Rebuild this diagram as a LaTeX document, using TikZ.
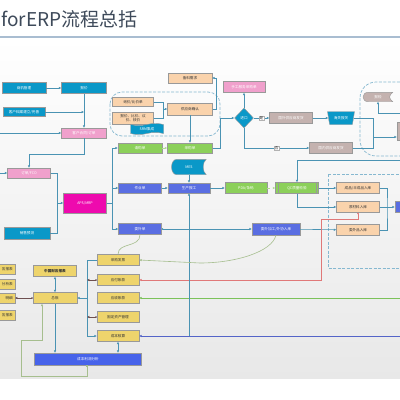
\documentclass[tikz,border=0pt]{standalone}
\usepackage{fontspec}
\setmainfont{Noto Sans CJK SC}
\usetikzlibrary{arrows.meta,positioning,calc,shapes.geometric,shapes.symbols,backgrounds}
\definecolor{cyanc}{HTML}{0A98C8}
\definecolor{pinkc}{HTML}{F0A0CC}
\definecolor{magc}{HTML}{EE0AAE}
\definecolor{greenc}{HTML}{8CD05A}
\definecolor{royc}{HTML}{5A6EE2}
\definecolor{fxc}{HTML}{4763EA}
\definecolor{orc}{HTML}{FAD3AC}
\definecolor{grayc}{HTML}{C4B2AF}
\definecolor{yelc}{HTML}{EED46C}
\definecolor{tealc}{HTML}{4A93B3}
\definecolor{redc}{HTML}{E07878}
\definecolor{greenl}{HTML}{7CC25A}
\definecolor{bluel}{HTML}{5464C8}
\definecolor{olivec}{HTML}{A6BE8E}
\definecolor{brownc}{HTML}{6E5050}
\definecolor{dashc}{HTML}{86B8D0}
\definecolor{lgreen}{HTML}{B0DE90}
\definecolor{titlec}{HTML}{3E4A5A}
\definecolor{rulec}{HTML}{A9BDD1}
\newcommand{\lblfont}{\fontsize{3.6}{4.2}\selectfont}

\begin{document}
\begin{tikzpicture}[x=1pt, y=-1pt,
    box/.style={rectangle, draw=black!40, line width=0.4pt, minimum width=43pt, minimum height=10pt, inner sep=0.5pt, font=\lblfont, align=center, text=white},
    lbox/.style={box, text=black!80},
    cutbox/.style={lbox, fill=yelc, anchor=east, minimum width=40pt, text width=36pt, align=right},
    flow/.style={draw=tealc, line width=0.6pt, -{Latex[length=2.4pt,width=2.4pt]}},
    brownflow/.style={flow, draw=brownc, {Circle[length=1.6pt]}-{Latex[length=2.4pt,width=2.4pt]}},
    region/.style={draw=dashc, dash pattern=on 3pt off 1.5pt, line width=0.7pt},
    yesno/.style={fill=white, draw=black!30, line width=0.2pt, inner sep=0.6pt, font=\lblfont, text=black!80},
]
    \useasboundingbox (0,0) rectangle (400,400);
    \node[anchor=west, inner sep=0, font=\fontsize{19}{20}\selectfont, text=titlec] (title) at (1,19) {forERP流程总括};
    \draw[rulec, line width=1.2pt] (0,37) -- (400,37);

    \draw[region, rounded corners=12pt] (110,92) rectangle (220,136);
    \draw[region, rounded corners=16pt] (360,82) rectangle (430,156);
    \draw[region] (328,174) rectangle (420,268);

    \node[box, fill=cyanc, minimum width=44pt, minimum height=11pt] (sj) at (24,88) {商机管理};
    \node[box, fill=cyanc, minimum width=45pt, minimum height=11pt] (bj) at (84,88) {报价};
    \node[box, fill=cyanc, minimum width=42pt, minimum height=9pt] (da) at (24,112) {客户档案建立/完善};
    \node[box, fill=pinkc, minimum width=45pt] (ht) at (84,133) {客户合同/订单};
    \node[box, fill=pinkc] (dd) at (29,173) {订单/FCO};
    \node[box, fill=cyanc, minimum width=46pt, minimum height=12pt] (yc) at (27,233) {销售预测};
    \node[box, fill=magc, minimum height=20pt] (aps) at (85,203) {APS/MRP};

    \node[lbox, fill=orc, minimum width=44pt] (bl) at (190,78) {备料需求};
    \node[lbox, fill=orc, minimum width=41pt, minimum height=9pt] (xj) at (133,102) {询价/比价单};
    \node[lbox, fill=orc, minimum width=41pt, minimum height=12pt] (bjd) at (133,118) {报价、比价、议\\价、核价};
    \node[lbox, fill=orc, minimum width=45pt, minimum height=12pt] (gys) at (190,109) {供应商确认};
    \node[box, tape, tape bend height=2pt, fill=cyanc, minimum width=33pt, minimum height=11pt] (srm) at (147,129) {SRM集成};

    \node[box, fill=greenc, minimum width=44pt] (qg) at (140,148) {请购单};
    \node[box, fill=greenc, minimum width=45pt] (cg) at (190,148) {采购单};
    \node[text=white, font=\lblfont, minimum width=34pt, minimum height=15pt, inner sep=0] (mes) at (189,167) {MES};
    \node[box, fill=royc] (zy) at (140,188) {作业单};
    \node[box, fill=royc, minimum width=42pt] (bg) at (189,188) {生产报工};
    \node[box, fill=royc, minimum height=11pt] (ww) at (140,229) {委外单};

    \node[box, fill=pinkc, minimum width=42pt, minimum height=11pt] (pk) at (244,87) {手工服务采购单};
    \node[diamond, draw=black!40, line width=0.4pt, fill=cyanc, text=white, font=\lblfont, minimum width=19pt, minimum height=20pt, inner sep=0] (jk) at (244,118) {进口};
    \node[box, fill=grayc, minimum height=11pt] (gw) at (291,118) {国外供应商发货};
    \node[box, fill=grayc, minimum height=11pt] (gn) at (331,148) {国内供应商发货};
    \node[trapezium, shape border rotate=180, trapezium angle=72, trapezium stretches=true, draw=black!40, line width=0.4pt, fill=cyanc, text=white, font=\lblfont, minimum width=27pt, minimum height=13pt, inner sep=0.5pt] (hg) at (341,118) {海关报关};
    \node[text=white, font=\lblfont, minimum width=29pt, minimum height=9pt, inner sep=0] (jy) at (378,97) {报检};
    \node[box, fill=grayc, minimum width=32pt, minimum height=18pt] (dh) at (413,131) {};

    \node[box, fill=greenc, minimum width=42pt, minimum height=11pt] (pda) at (246,188) {PDA/条码};
    \node[box, fill=greenc, minimum height=11pt] (qc) at (297,188) {QC质量检验};
    \draw[black!40, line width=0.4pt] ([xshift=3pt]qc.north west) -- ([xshift=3pt]qc.south west);
    \draw[black!40, line width=0.4pt] ([xshift=-3pt]qc.north east) -- ([xshift=-3pt]qc.south east);
    \node[box, fill=royc, minimum width=48pt, minimum height=12pt] (wj) at (276,229) {委外加工/外协入库};
    \node[lbox, fill=orc, minimum height=11pt] (cp) at (358,188) {成品/半成品入库};
    \node[lbox, fill=orc, minimum height=11pt] (ycl) at (358,207) {原材料入库};
    \node[lbox, fill=orc, minimum height=11pt] (wp) at (358,230) {委外品入库};
    \node[box, fill=royc, minimum width=50pt, minimum height=11pt] (kc) at (420,207) {};

    \node[lbox, fill=yelc, minimum width=42pt, minimum height=11pt] (cf) at (118,260) {采购发票};
    \node[lbox, fill=yelc, minimum width=42pt, minimum height=11pt] (yf) at (118,280) {应付账款};
    \node[lbox, fill=yelc, minimum width=42pt, minimum height=11pt] (ys) at (118,298) {应收账款};
    \node[lbox, fill=yelc, minimum width=42pt, minimum height=11pt] (gz) at (118,317) {固定资产管理};
    \node[lbox, fill=yelc, minimum width=42pt, minimum height=11pt] (cb) at (118,336) {成本核算};
    \node[lbox, fill=yelc, minimum width=44pt, minimum height=11pt] (zz) at (55,298) {总账};
    \node[lbox, fill=yelc, minimum width=43pt, minimum height=11pt, font=\lblfont\bfseries] (bb) at (55,271) {中国财务报表};
    \node[cutbox, minimum height=10pt] (l1) at (15,269) {务报表};
    \node[cutbox, minimum height=10pt] (l2) at (15,284) {分析表};
    \node[cutbox, minimum height=10pt] (l3) at (15,298) {明细};
    \node[cutbox, minimum height=10pt] (l4) at (15,315) {务报表};
    \node[box, fill=fxc, minimum width=107pt, minimum height=12pt] (fx) at (88,359) {成本利润分析};

    \begin{scope}[on background layer]
        \fill[top color=white, bottom color=black!9] (0,38) rectangle (400,378);
        \foreach \n/\c in {mes/cyanc, jy/grayc}
            \filldraw[fill=\c, draw=black!40, line width=0.4pt] ($(\n.north west)+(5,0)$) -- (\n.north east)
                .. controls ($(\n.north east)+(-4,3)$) and ($(\n.south east)+(-4,-3)$) .. (\n.south east)
                -- ($(\n.south west)+(5,0)$)
                .. controls ($(\n.south west)+(-2,0)$) and ($(\n.north west)+(-2,0)$) .. cycle;
    \end{scope}

    \coordinate (inA) at (0,133);
    \coordinate (inB) at (0,173);
    \coordinate (inC) at (400,160);
    \coordinate (inD) at (400,113);
    \coordinate (inE) at (400,298);
    \coordinate (inF) at (400,336);
    \coordinate (jA) at (57,203);
    \coordinate (jB) at (112,203);
    \coordinate (jC) at (163,109);
    \coordinate (jD) at (387,207);
    \coordinate (jE) at (373,137);
    \coordinate (jF) at (87,298);

    \draw[flow] (sj) -- (bj);
    \draw[flow] (bj) -- (ht);
    \draw[flow] (da.east) -- (da.east -| ht.north);
    \draw[flow] (inA) -- (ht.west);
    \draw[flow] (inB) -- (dd.west);
    \draw[flow] (ht.south) -- ++(0,16) -| (dd.north);
    \draw[flow] (dd.east) -| (jA) -- (aps.west);
    \draw[flow, -] (yc.east) -| (jA);
    \draw[flow] (aps.east) -- (jB) |- (qg.west);
    \draw[flow] (jB) |- (zy.west);
    \draw[flow] (jB) |- (ww.west);

    \draw[flow] (xj.east) -| (jC) -- (gys.west);
    \draw[flow, -] (bjd.east) -| (jC);
    \draw[flow] (gys.east) -- ++(4,0) |- (bl.east);
    \draw[flow] (gys) -- (cg);
    \draw[flow, draw=lgreen, dashed] (qg) -- (cg);
    \draw[flow] (cg.east) -- ++(8,0) |- (jk.west);
    \draw[flow] (jk) -- (pk);
    \draw[flow] (jk) -- node[yesno] {是} (gw);
    \draw[flow] (jk.south) |- node[yesno, pos=0.75] {否} (gn.west);
    \draw[flow] (gw) -- (hg);
    \draw[flow, -] (hg.east) -| (jE);
    \draw[flow, -] (gn.east) -| (jE);
    \draw[flow] (jE) -- (jE -| dh.west);
    \draw[flow] (inD) -| (jy.south);

    \draw[flow] (mes) -- (bg);
    \draw[flow] (zy) -- (bg);
    \draw[flow] (bg) -- (pda);
    \draw[flow, draw=lgreen, dashed] (pda) -- (qc);
    \draw[flow] (inC) -| (qc.north);
    \draw[flow] (qc) -- (cp);
    \draw[flow] (qc.south) |- (ycl.west);
    \draw[flow, {Circle[length=1.6pt]}-{Latex[length=2.4pt,width=2.4pt]}] (ww) -- (wj);
    \draw[flow] (wj) -- (wp);
    \draw[flow, -] (cp.east) -| (jD) |- (wp.east);
    \draw[flow] (ycl) -- (kc);

    \draw[flow, draw=redc, {Circle[length=1.6pt]}-{Latex[length=2.4pt,width=2.4pt]}] (ycl.south) |- (321,219) |- (yf.east);
    \draw[flow, draw=greenl] (inE) -- (ys.east);
    \draw[flow, draw=bluel] (inF) -- (cb.east);
    \draw[flow] (bg.south |- cb.east) -- (bg.south);
    \draw[flow, draw=olivec] (wj.south) .. controls (272,252) and (235,263) .. (200,263) -- (cf.east);
    \draw[olivec, line width=0.6pt] (ww.south) .. controls (140,248) and (118,242) .. (cf.north);

    \draw[flow, -] (cf.west) -| (jF);
    \draw[flow] (jF) |- (cb.west);
    \draw[flow] (jF) -- (zz.east);
    \draw[brownflow] (yf.west) -- (yf.west -| jF);
    \draw[brownflow] (gz.west) -- (gz.west -| jF);
    \draw[brownflow] (zz.west) -- (l3.east);
    \draw[flow, {Latex[length=2.4pt,width=2.4pt]}-{Latex[length=2.4pt,width=2.4pt]}] (bb) -- (zz);
    \draw[flow] (zz.south) -- (zz.south |- fx.north);
    \draw[flow, {Latex[length=2.4pt,width=2.4pt]}-{Latex[length=2.4pt,width=2.4pt]}] (cb.south) -- (cb.south |- fx.north);
    \draw[flow, draw=olivec, {Square[length=1.6pt]}-{Latex[length=2.4pt,width=2.4pt]}] ($(fx.south)+(-1,0)$) -- ++(0,11) -| (21,340) -| ([xshift=-13pt]zz.south);
\end{tikzpicture}
\end{document}
